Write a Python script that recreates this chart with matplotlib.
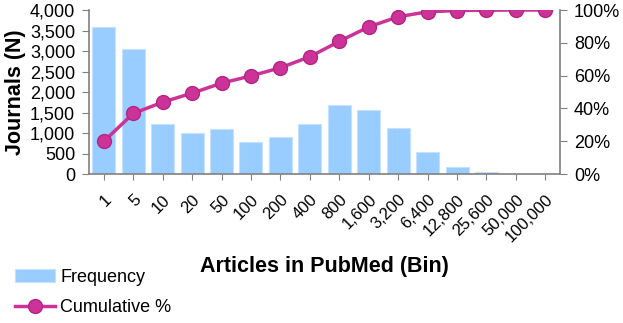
import numpy as np
import matplotlib.pyplot as plt
from matplotlib.ticker import FuncFormatter, PercentFormatter

plt.rcParams['font.family'] = ['Liberation Sans', 'DejaVu Sans']

############### DATA ###############
bins = ["1", "5", "10", "20", "50", "100", "200", "400", "800", "1,600",
        "3,200", "6,400", "12,800", "25,600", "50,000", "100,000"]
frequency = [3580, 3050, 1230, 1000, 1100, 780, 900, 1210, 1690, 1570,
             1110, 540, 160, 45, 12, 4]
cumulative = [19.9, 36.9, 43.8, 49.3, 55.4, 59.8, 64.8, 71.5, 80.9, 89.7,
              95.9, 98.9, 99.7, 99.9, 100.0, 100.0]
####################################

bar_color = "#99CCFF"
line_color = "#CC3399"
axis_color = "#808080"

fig = plt.figure(figsize=(6.23, 3.23), dpi=100)
ax = fig.add_axes([0.1429, 0.4613, 0.7561, 0.5077])
x = np.arange(len(bins))

bars = ax.bar(x, frequency, width=0.78, color=bar_color, edgecolor="#C4E2FF",
              linewidth=0.8, label="Frequency", zorder=2)
ax.set_xlim(-0.5, len(bins) - 0.5)
ax.set_ylim(0, 4000)
ax.set_yticks(np.arange(0, 4001, 500))
ax.yaxis.set_major_formatter(FuncFormatter(lambda v, p: f"{int(v):,}"))
ax.set_xticks(x)
ax.set_xticklabels(bins, rotation=45, ha="right", va="top",
                   rotation_mode="anchor", fontsize=12)
ax.tick_params(axis='y', labelsize=13, length=5, color=axis_color, pad=5)
ax.tick_params(axis='x', length=4, color=axis_color, pad=9)
ax.set_ylabel("Journals (N)", fontsize=15.5, fontweight="bold", labelpad=3)
ax.set_xlabel("Articles in PubMed (Bin)", fontsize=15.5, fontweight="bold",
              labelpad=8)

for s in ["top", "right"]:
    ax.spines[s].set_visible(False)
for s in ["left", "bottom"]:
    ax.spines[s].set_color(axis_color)
    ax.spines[s].set_linewidth(1.2)

ax2 = ax.twinx()
line, = ax2.plot(x, cumulative, color=line_color, linewidth=2.5, marker="o",
                 markersize=10, markerfacecolor=line_color,
                 markeredgecolor="#B5257F", label="Cumulative %", zorder=3)
ax2.set_ylim(0, 100)
ax2.set_yticks(np.arange(0, 101, 20))
ax2.yaxis.set_major_formatter(PercentFormatter(decimals=0))
ax2.tick_params(axis='y', labelsize=13, length=5, color=axis_color, pad=5)
for s in ["top", "left", "bottom"]:
    ax2.spines[s].set_visible(False)
ax2.spines["right"].set_color(axis_color)
ax2.spines["right"].set_linewidth(1.2)

fig.legend(
    [bars, line], ["Frequency", "Cumulative %"],
    loc="upper left",
    bbox_to_anchor=(0.024, 0.168),
    frameon=False,
    fontsize=13,
    borderpad=0,
    borderaxespad=0,
    handlelength=2.2,
    handletextpad=0.3,
    labelspacing=0.75,
)

plt.savefig("out.png", dpi=100)
